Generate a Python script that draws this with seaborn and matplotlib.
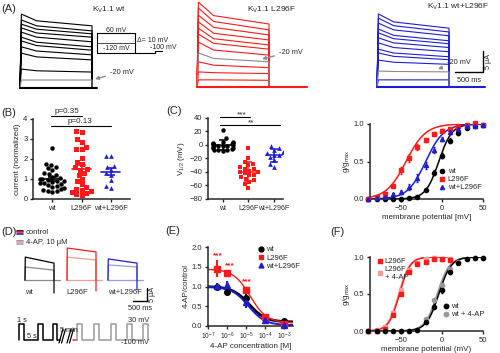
import numpy as np
import pandas as pd
import matplotlib
matplotlib.use("Agg")
import matplotlib.pyplot as plt
from matplotlib.lines import Line2D
from matplotlib.ticker import NullLocator, FormatStrFormatter
import seaborn as sns

sns.set_style("ticks")
plt.rcParams['font.family'] = ['Liberation Sans', 'DejaVu Sans']
plt.rcParams['font.size'] = 5.8
plt.rcParams['mathtext.default'] = 'regular'
plt.rcParams['axes.linewidth'] = 1.1
plt.rcParams['xtick.major.width'] = 1.0
plt.rcParams['ytick.major.width'] = 1.0
plt.rcParams['xtick.major.size'] = 2.5
plt.rcParams['ytick.major.size'] = 2.5
plt.rcParams['xtick.labelsize'] = 5.5
plt.rcParams['ytick.labelsize'] = 5.5
plt.rcParams['xtick.major.pad'] = 1.5
plt.rcParams['ytick.major.pad'] = 1.5
plt.rcParams['axes.labelpad'] = 1.5

BLACK = 'black'
RED = '#ff1a1a'
BLUE = '#1f1fd0'
GREY = '#8a8a8a'
PINK = '#f49a9a'
LBLUE = '#9c9cdc'

# ---------------- data ----------------
# (A) sweeps: peak, 300 ms and end-of-pulse current (uA)
a_peak_wt = [17.6, 16.2, 15.2, 14.3, 13.3, 12.1, 11.2, 9.8, 8.3, 4.5, 1.9]
a_mid_wt = [16.0, 14.8, 14.0, 13.1, 12.1, 10.9, 10.1, 8.8, 7.4, 4.1, 1.9]
a_end_wt = [14.8, 13.6, 12.9, 12.1, 11.0, 9.8, 9.0, 7.9, 6.7, 3.8, 1.9]
a_peak_mut = [20.2, 18.8, 17.1, 15.5, 14.0, 12.6, 10.7, 8.1, 6.0, 3.6, 1.7]
a_mid_mut = [17.0, 15.6, 14.2, 12.8, 11.5, 10.4, 8.8, 6.8, 5.2, 3.4, 1.7]
a_end_mut = [15.0, 13.6, 12.4, 11.2, 10.0, 9.0, 7.6, 6.0, 4.6, 3.2, 1.6]
a_peak_het = [17.4, 16.4, 15.2, 13.8, 12.9, 11.7, 10.5, 9.0, 8.1, 6.4, 3.8, 1.7]
a_mid_het = [15.5, 14.6, 13.6, 12.3, 11.5, 10.5, 9.4, 8.1, 7.3, 5.9, 3.7, 1.7]
a_end_het = [14.0, 13.1, 12.2, 11.0, 10.3, 9.4, 8.4, 7.2, 6.5, 5.4, 3.6, 1.7]
a_grey_idx = [10, 7, 10]   # the -20 mV sweep

groups = ['wt', 'L296F', 'wt+L296F']
# (B) normalized current
b_wt = [2.55, 1.75, 1.7, 1.6, 1.55, 1.45, 1.3, 1.25, 1.2, 1.1, 1.05, 1.0, 1.0, 0.95,
        0.9, 0.9, 0.85, 0.8, 0.8, 0.75, 0.7, 0.65, 0.6, 0.55, 0.5, 0.45, 0.4, 0.4, 0.35]
b_mut = [3.4, 3.35, 3.0, 2.85, 2.6, 2.5, 2.5, 2.05, 1.85, 1.75, 1.6, 1.5, 1.45, 1.3,
         1.2, 1.0, 0.9, 0.75, 0.6, 0.5, 0.45, 0.4, 0.35, 0.3, 0.25, 0.2]
b_het = [2.15, 2.15, 1.65, 1.6, 1.45, 1.3, 1.2, 0.95, 0.65, 0.55]
# (C) V1/2 (mV)
c_wt = [22, 10, 5, 4, 3, 3, 2, 2, 1, 0, 0, -1, -1, -2, -3, -4, -5, -6, -7, -8, -8, -9]
c_mut = [-5, -20, -25, -28, -30, -32, -35, -35, -38, -40, -40, -42, -45, -45, -48,
         -50, -52, -55, -58, -63]
c_het = [-2, -5, -8, -10, -12, -15, -15, -18, -22, -28, -32]

# conductance-voltage (g/gmax)
gv_v = [-90, -80, -70, -60, -50, -40, -30, -20, -10, 0, 10, 20, 30, 40, 50]
gv_wt = [0.0, 0.0, 0.0, 0.0, 0.0, 0.01, 0.03, 0.12, 0.35, 0.58, 0.78, 0.88, 0.95, 0.98, 0.99]
gv_wt_err = [0, 0, 0, 0, 0, 0.01, 0.01, 0.02, 0.03, 0.03, 0.03, 0.02, 0.01, 0.01, 0.01]
gv_mut = [0.0, 0.02, 0.06, 0.17, 0.38, 0.55, 0.69, 0.79, 0.87, 0.91, 0.94, 0.97, 0.99, 1.01, 0.99]
gv_mut_err = [0, 0.01, 0.01, 0.03, 0.05, 0.05, 0.04, 0.03, 0.02, 0.02, 0.01, 0.01, 0.01, 0.01, 0.01]
gv_het = [0.0, 0.01, 0.03, 0.06, 0.09, 0.16, 0.28, 0.45, 0.65, 0.80, 0.89, 0.94, 0.97, 0.98, 0.99]
gv_het_err = [0, 0.01, 0.01, 0.02, 0.03, 0.04, 0.05, 0.05, 0.04, 0.03, 0.02, 0.02, 0.01, 0.01, 0.01]
# Boltzmann fit parameters (V1/2, slope k)
gv_fit = {'wt': (-4, 8), 'L296F': (-44, 12), 'wt+L296F': (-20, 11)}

# (D) 4-AP traces, current (uA) for wt, L296F, wt+L296F
d_ctrl_peak = [8.8, 12.3, 8.1]
d_ctrl_end = [6.5, 10.8, 6.5]
d_4ap_peak = [5.0, 8.8, 5.8]
d_4ap_end = [3.8, 7.7, 5.0]
d_tail = [-5.0, -4.2, -3.8]

# (E) 4-AP dose response
e_conc = [3e-7, 1e-6, 1e-5, 1e-4, 1e-3]
e_wt = [1.0, 0.85, 0.72, 0.20, 0.13]
e_wt_err = [0.05, 0.04, 0.08, 0.03, 0.02]
e_mut = [1.45, 1.33, 0.90, 0.22, 0.06]
e_mut_err = [0.22, 0.10, 0.10, 0.05, 0.02]
e_het = [1.02, 1.05, 0.62, 0.15, 0.02]
e_het_err = [0.06, 0.10, 0.17, 0.04, 0.02]
# Hill fit parameters (top, bottom, IC50)
e_fit = {'wt': (1.0, 0.10, 1.4e-5), 'L296F': (1.44, 0.08, 1.6e-5), 'wt+L296F': (1.0, 0.02, 1.3e-5)}

# (F) g/gmax with and without 4-AP
f_v_mut = [-90, -80, -70, -60, -50, -40, -30, -20, -10, 0, 10]
f_mut = [0.0, 0.0, 0.03, 0.22, 0.50, 0.80, 0.90, 0.93, 0.97, 0.97, 0.96]
f_mut_4ap = [0.0, 0.01, 0.05, 0.25, 0.55, 0.82, 0.92, 0.97, 0.98, 0.97, 0.97]
f_v_wt = gv_v
f_wt = [0, 0, 0, 0, 0, 0, 0.01, 0.12, 0.33, 0.56, 0.80, 0.92, 0.97, 0.98, 0.99]
f_wt_4ap = [0, 0, 0, 0, 0, 0, 0.02, 0.16, 0.42, 0.62, 0.84, 0.93, 0.97, 0.98, 0.99]
f_wt_err = [0, 0, 0, 0, 0, 0, 0.01, 0.02, 0.03, 0.04, 0.03, 0.02, 0.01, 0.01, 0.01]
f_fit = {'L296F': (-52, 6.5), 'L296F + 4-AP': (-53, 6.5), 'wt': (-4, 7.5), 'wt + 4-AP': (-6, 7.5)}

# ---------------- figure ----------------
W, H = 500, 353
fig = plt.figure(figsize=(5, 3.53), dpi=100)


def px_axes(x0, y0, x1, y1):
    return fig.add_axes([x0 / W, 1 - y1 / H, (x1 - x0) / W, (y1 - y0) / H])


def boltz(v, vh, k):
    return 1 / (1 + np.exp((vh - v) / k))


# ---- (A) traces ----
PX_MS, PX_UA = 0.0554, 4.2
SWEEP_T = [0, 25, 300, 1300, 1300]


def trace_panel(x_start, base_y, peaks, mids, ends, grey_idx, color, tail):
    ax = px_axes(x_start - 2, 0, x_start + 118, 92)
    rows = []
    for i, (p, m, e) in enumerate(zip(peaks, mids, ends)):
        kind = 'grey' if i == grey_idx else 'main'
        for t, v in zip(SWEEP_T, [0, p, m, e, 0]):
            rows.append(dict(t=t, I=v, sweep=i, kind=kind))
    df = pd.DataFrame(rows)
    sns.lineplot(data=df, x='t', y='I', units='sweep', estimator=None, hue='kind',
                 hue_order=['main', 'grey'], palette={'main': color, 'grey': GREY},
                 sort=False, legend=False, lw=0.8, ax=ax)
    ax.plot([0, tail], [0, 0], color=color, lw=1.5)
    ax.set_xlim(-2 / PX_MS, 118 / PX_MS)
    ax.set_ylim(-(92 - base_y) / PX_UA, base_y / PX_UA)
    ax.axis('off')
    return ax


trace_panel(20, 88, a_peak_wt, a_mid_wt, a_end_wt, a_grey_idx[0], BLACK, 1390)
trace_panel(197, 87, a_peak_mut, a_mid_mut, a_end_mut, a_grey_idx[1], RED, 1980)
ax_het = trace_panel(377, 87, a_peak_het, a_mid_het, a_end_het, a_grey_idx[2], BLUE, 1950)
# scale bar
ax_het.plot([1408, 1913, 1913], [3.6, 3.6, 8.6], color=BLACK, lw=1.0, clip_on=False)
ax_het.text(1660, 2.3, '500 ms', ha='center', va='top', fontsize=5.3)
ax_het.text(2010, 6.1, '5 µA', ha='center', va='center', rotation=90, fontsize=5.3)

# ---- (B) ----
ax_b = px_axes(33, 119, 130, 199)
df_b = pd.DataFrame({'g': ['wt'] * len(b_wt) + ['L296F'] * len(b_mut) + ['wt+L296F'] * len(b_het),
                     'v': b_wt + b_mut + b_het})
for g, c, m, s in zip(groups, [BLACK, RED, BLUE], ['o', 's', '^'], [3.2, 3.6, 3.4]):
    sns.swarmplot(data=df_b[df_b.g == g], x='g', y='v', order=groups, color=c,
                  marker=m, size=s, linewidth=0, ax=ax_b)
for i, (g, c) in enumerate(zip(groups, [BLACK, RED, BLUE])):
    vals = np.array(df_b[df_b.g == g].v)
    mu, se = vals.mean(), vals.std(ddof=1) / np.sqrt(len(vals))
    ax_b.plot([i - 0.32, i + 0.32], [mu, mu], color=c, lw=1.2, zorder=5)
    ax_b.errorbar(i, mu, yerr=se, color=c, lw=1.2, capsize=3, capthick=1.2, zorder=5)
ax_b.set_xlim(-0.65, 2.65)
ax_b.set_ylim(0, 4)
ax_b.set_yticks([0, 1, 2, 3, 4])
ax_b.set_xlabel('')
ax_b.set_ylabel('current (normalized)')
sns.despine(ax=ax_b)
ax_b.plot([-0.05, 1.0], [4.15, 4.15], color=BLACK, lw=0.8, clip_on=False)
ax_b.text(0.5, 4.22, 'p=0.35', ha='center', va='bottom')
ax_b.plot([-0.05, 2.0], [3.65, 3.65], color=BLACK, lw=0.8, clip_on=False)
ax_b.text(0.95, 3.72, 'p=0.13', ha='center', va='bottom')

# ---- (C) ----
ax_c = px_axes(208, 118, 283, 199)
df_c = pd.DataFrame({'g': ['wt'] * len(c_wt) + ['L296F'] * len(c_mut) + ['wt+L296F'] * len(c_het),
                     'v': c_wt + c_mut + c_het})
for g, c, m, s in zip(groups, [BLACK, RED, BLUE], ['o', 's', '^'], [3.2, 3.4, 3.4]):
    sns.swarmplot(data=df_c[df_c.g == g], x='g', y='v', order=groups, color=c,
                  marker=m, size=s, linewidth=0, ax=ax_c)
for i, (g, c) in enumerate(zip(groups, [BLACK, RED, BLUE])):
    vals = np.array(df_c[df_c.g == g].v)
    mu, sd = vals.mean(), vals.std(ddof=1)
    ax_c.plot([i - 0.32, i + 0.32], [mu, mu], color=c, lw=1.1, zorder=5)
    ax_c.errorbar(i, mu, yerr=sd, color=c, lw=1.1, capsize=3, capthick=1.1, zorder=5)
ax_c.set_xlim(-0.58, 2.35)
ax_c.set_ylim(-80, 40)
ax_c.set_yticks(range(-80, 41, 20))
ax_c.tick_params(axis='x', labelsize=5.0)
ax_c.set_xlabel('')
ax_c.set_ylabel('V$_{1/2}$ (mV)')
sns.despine(ax=ax_c)
ax_c.plot([-0.1, 1.05], [41.5, 41.5], color=BLACK, lw=0.8, clip_on=False)
ax_c.text(0.73, 44, '***', ha='center', va='center', fontsize=6)
ax_c.plot([-0.1, 2.25], [29.6, 29.6], color=BLACK, lw=0.8, clip_on=False)
ax_c.text(1.1, 32.5, '**', ha='center', va='center', fontsize=6)

# ---- g/gmax panel ----
ax_g = px_axes(370, 124, 483, 199)
vv = np.linspace(-90, 50, 200)
for name, y, err, c, m in [('wt', gv_wt, gv_wt_err, BLACK, 'o'),
                           ('L296F', gv_mut, gv_mut_err, RED, 's'),
                           ('wt+L296F', gv_het, gv_het_err, BLUE, '^')]:
    sns.lineplot(x=vv, y=boltz(vv, *gv_fit[name]), color=c, lw=1.1, ax=ax_g)
    ax_g.errorbar(gv_v, y, yerr=err, fmt=m, color=c, ms=3, lw=0.8, capsize=1, clip_on=False, zorder=4)
ax_g.set_xlim(-88, 50)
ax_g.set_ylim(0, 1)
ax_g.set_xticks([-50, 0, 50])
ax_g.set_yticks([0, 0.5, 1.0])
ax_g.yaxis.set_major_formatter(FormatStrFormatter('%.1f'))
ax_g.set_xlabel('membrane potential [mV]')
ax_g.set_ylabel('g/g$_{max}$')
sns.despine(ax=ax_g)
h_g = [Line2D([], [], ls='', marker=m, color=c, ms=3) for m, c in zip(['o', 's', '^'], [BLACK, RED, BLUE])]
ax_g.legend(h_g, groups, loc='lower right', bbox_to_anchor=(1.02, 0.05), frameon=False,
            handlelength=0.6, handletextpad=0.4, labelspacing=0.1, borderpad=0, fontsize=5.5)

# ---- (D) traces ----
D_PX_MS, D_PX_UA = 0.029, 2.6
d_starts = [25, 67, 108]
d_ctrl_col = [BLACK, RED, BLUE]
d_4ap_col = [GREY, PINK, LBLUE]
for i, x0 in enumerate(d_starts):
    right = 50 if i == 2 else 40
    ax = px_axes(x0 - 2, 240, x0 + right, 300)
    ax.plot([-40, 1200], [0, 0], color=d_4ap_col[i], lw=0.9)
    sns.lineplot(x=[0, 10, 1000, 1000], y=[0, d_4ap_peak[i], d_4ap_end[i], 0], sort=False,
                 estimator=None, color=d_4ap_col[i], lw=0.9, ax=ax)
    sns.lineplot(x=[0, 10, 1000, 1000, 1000], y=[0, d_ctrl_peak[i], d_ctrl_end[i], 0, d_tail[i]],
                 sort=False, estimator=None, color=d_ctrl_col[i], lw=0.9, ax=ax)
    ax.set_xlim(-2 / D_PX_MS, right / D_PX_MS)
    ax.set_ylim(-20 / D_PX_UA, 40 / D_PX_UA)
    ax.axis('off')
    if i == 2:
        ax.plot([862, 1345, 1345], [-8.1, -8.1, -3.1], color=BLACK, lw=1.0, clip_on=False)
        ax.text(1100, -9.6, '500 ms', ha='center', va='top', fontsize=5.3)
        ax.text(1530, -5.6, '5 µA', ha='center', va='center', rotation=90, fontsize=5.3)

# ---- (E) ----
ax_e = px_axes(208, 247, 293, 326)
cc = np.logspace(-7, -2.55, 200)
for name, y, err, c, m, lw in [('wt', e_wt, e_wt_err, BLACK, 'o', 2.0),
                               ('L296F', e_mut, e_mut_err, RED, 's', 1.0),
                               ('wt+L296F', e_het, e_het_err, BLUE, '^', 1.4)]:
    top, bot, ic50 = e_fit[name]
    sns.lineplot(x=cc, y=bot + (top - bot) / (1 + cc / ic50), color=c, lw=lw, ax=ax_e)
    ax_e.errorbar(e_conc, y, yerr=err, fmt=m, color=c, ms=4, lw=1.5, capsize=0, zorder=4, clip_on=False)
ax_e.set_xscale('log')
ax_e.set_xlim(1e-7, 10 ** -2.55)
ax_e.set_ylim(0, 2)
ax_e.set_xticks([1e-7, 1e-6, 1e-5, 1e-4, 1e-3])
ax_e.xaxis.set_minor_locator(NullLocator())
ax_e.tick_params(axis='x', labelsize=4.8, pad=0.8)
ax_e.set_yticks([0, 0.5, 1.0, 1.5, 2.0])
ax_e.yaxis.set_major_formatter(FormatStrFormatter('%.1f'))
ax_e.set_xlabel('4-AP concentration [M]', labelpad=0.5)
ax_e.set_ylabel('4-AP/control')
sns.despine(ax=ax_e)
for xs, ys in [(3.1e-7, 1.78), (1.4e-6, 1.52), (1.1e-5, 1.12)]:
    ax_e.text(xs, ys, '***', color=RED, ha='center', va='center', fontsize=6, fontweight='bold')
h_e = [Line2D([], [], ls='', marker=m, color=c, ms=3.5) for m, c in zip(['o', 's', '^'], [BLACK, RED, BLUE])]
ax_e.legend(h_e, groups, loc='upper left', bbox_to_anchor=(0.55, 1.06), frameon=False,
            handlelength=0.6, handletextpad=0.4, labelspacing=0.1, borderpad=0, fontsize=5.5)

# ---- (F) ----
ax_f = px_axes(370, 257, 483, 331)
vm = np.linspace(-90, 10, 150)
vw = np.linspace(-90, 50, 200)
for name, vs, y, err, c, m, vfit in [('L296F + 4-AP', f_v_mut, f_mut_4ap, None, PINK, 's', vm),
                                     ('L296F', f_v_mut, f_mut, None, RED, 's', vm),
                                     ('wt + 4-AP', f_v_wt, f_wt_4ap, None, '#999999', 'o', vw),
                                     ('wt', f_v_wt, f_wt, f_wt_err, BLACK, 'o', vw)]:
    sns.lineplot(x=vfit, y=boltz(vfit, *f_fit[name]), color=c, lw=1.1, ax=ax_f)
    ax_f.errorbar(vs, y, yerr=err, fmt=m, color=c, ms=3, lw=0.8, capsize=1, zorder=4, clip_on=False)
ax_f.set_xlim(-88, 50)
ax_f.set_ylim(0, 1)
ax_f.set_xticks([-50, 0, 50])
ax_f.set_yticks([0, 0.5, 1.0])
ax_f.yaxis.set_major_formatter(FormatStrFormatter('%.1f'))
ax_f.set_xlabel('membrane potential (mV)')
ax_f.set_ylabel('g/g$_{max}$')
sns.despine(ax=ax_f)
leg1 = ax_f.legend([Line2D([], [], ls='', marker='s', color=RED, ms=3.2),
                    Line2D([], [], ls='', marker='s', color=PINK, ms=3.2)],
                   ['L296F', 'L296F\n+ 4-AP'], loc='upper left', bbox_to_anchor=(0.03, 1.04),
                   frameon=False, handlelength=0.6, handletextpad=0.4, labelspacing=0.1,
                   borderpad=0, fontsize=5.5)
ax_f.add_artist(leg1)
ax_f.legend([Line2D([], [], ls='', marker='o', color=BLACK, ms=3.2),
             Line2D([], [], ls='', marker='o', color='#999999', ms=3.2)],
            ['wt', 'wt + 4-AP'], loc='lower right', bbox_to_anchor=(1.05, 0.12),
            frameon=False, handlelength=0.6, handletextpad=0.4, labelspacing=0.1,
            borderpad=0, fontsize=5.5)

# ---- overlay: labels and schematics (pixel coordinates) ----
ov = fig.add_axes([0, 0, 1, 1])
ov.set_xlim(0, W)
ov.set_ylim(H, 0)
ov.axis('off')
for lab, x, y in [('(A)', 1, 9), ('(B)', 1, 113), ('(C)', 166, 111),
                  ('(D)', 1, 232), ('(E)', 165, 231), ('(F)', 330, 232)]:
    ov.text(x, y, lab, fontsize=8, ha='left', va='center')
ov.text(92, 10, 'K$_V$1.1 wt', ha='left', va='center', fontsize=6)
ov.text(247, 10, 'K$_V$1.1 L296F', ha='left', va='center', fontsize=6)
ov.text(427, 7, 'K$_V$1.1 wt+L296F', ha='left', va='center', fontsize=6)
# voltage protocol inset (A)
ov.plot([97, 135, 135, 97, 97], [33, 33, 53, 53, 33], color=BLACK, lw=0.8)
ov.plot([97, 135], [43, 43], color=BLACK, lw=0.5)
ov.plot([135, 155, 155, 162], [53, 53, 51, 51], color=BLACK, lw=0.8)
ov.text(116, 30, '60 mV', ha='center', va='center', fontsize=5)
ov.text(116, 48.5, '-120 mV', ha='center', va='center', fontsize=5)
ov.text(137, 41, 'Δ= 10 mV', ha='left', va='center', fontsize=5)
ov.text(150, 47.5, '-100 mV', ha='left', va='center', fontsize=5)
for xy, xyt in [((95, 79), (110, 72)), ((262, 59), (279, 52)), ((438, 69), (447, 62))]:
    ov.annotate('-20 mV', xy=xy, xytext=xyt, ha='left', va='center', fontsize=5.3,
                arrowprops=dict(arrowstyle='-|>', color=GREY, lw=1.0, mutation_scale=5,
                                shrinkA=1, shrinkB=0))
# (D) legend
for k, (c1, c2) in enumerate(zip(d_ctrl_col, d_4ap_col)):
    ov.plot([17, 23], [230.5 + 1.5 * k] * 2, color=c1, lw=1.2)
    ov.plot([17, 23], [240.5 + 1.5 * k] * 2, color=c2, lw=1.2)
ov.text(26, 232, 'control', ha='left', va='center', fontsize=5.5)
ov.text(26, 242, '4-AP, 10 µM', ha='left', va='center', fontsize=5.5)
for lab, x in [('wt', 25), ('L296F', 66), ('wt+L296F', 108)]:
    ov.text(x, 293, lab, ha='left', va='center', fontsize=5.5)
# (D) pulse protocol schematic
top, low = 324, 340
black_x = [19, 19, 24, 24, 38, 38, 43, 43, 53, 53, 57, 57, 60]
black_y = [low, top, top, low, low, top, top, low, low, top, top, low, low]
ov.plot(black_x, black_y, color=BLACK, lw=1.1)
for xs in [59, 61.5, 67, 69.5]:
    ov.plot([xs, xs + 4], [343, 329], color=BLACK, lw=0.9)
ov.plot([73, 77], [low, low], color='#e0206a', lw=1.1)
gx, gy = [77], [low]
for p in [77, 94, 111, 127, 143]:
    gx += [p, p, p + 4.5, p + 4.5]
    gy += [low, top, top, low]
ov.plot(gx, gy, color='#9a9a9a', lw=1.1)
ov.text(17, 320, '1 s', ha='left', va='center', fontsize=5.3)
ov.text(27, 337, '5 s', ha='left', va='center', fontsize=5.3)
ov.text(60, 331, '5 min', ha='left', va='center', fontsize=5.3)
ov.text(149, 320, '30 mV', ha='right', va='center', fontsize=5.3)
ov.text(149, 343, '-100 mV', ha='right', va='center', fontsize=5.3)

fig.savefig('out.png', dpi=100)
